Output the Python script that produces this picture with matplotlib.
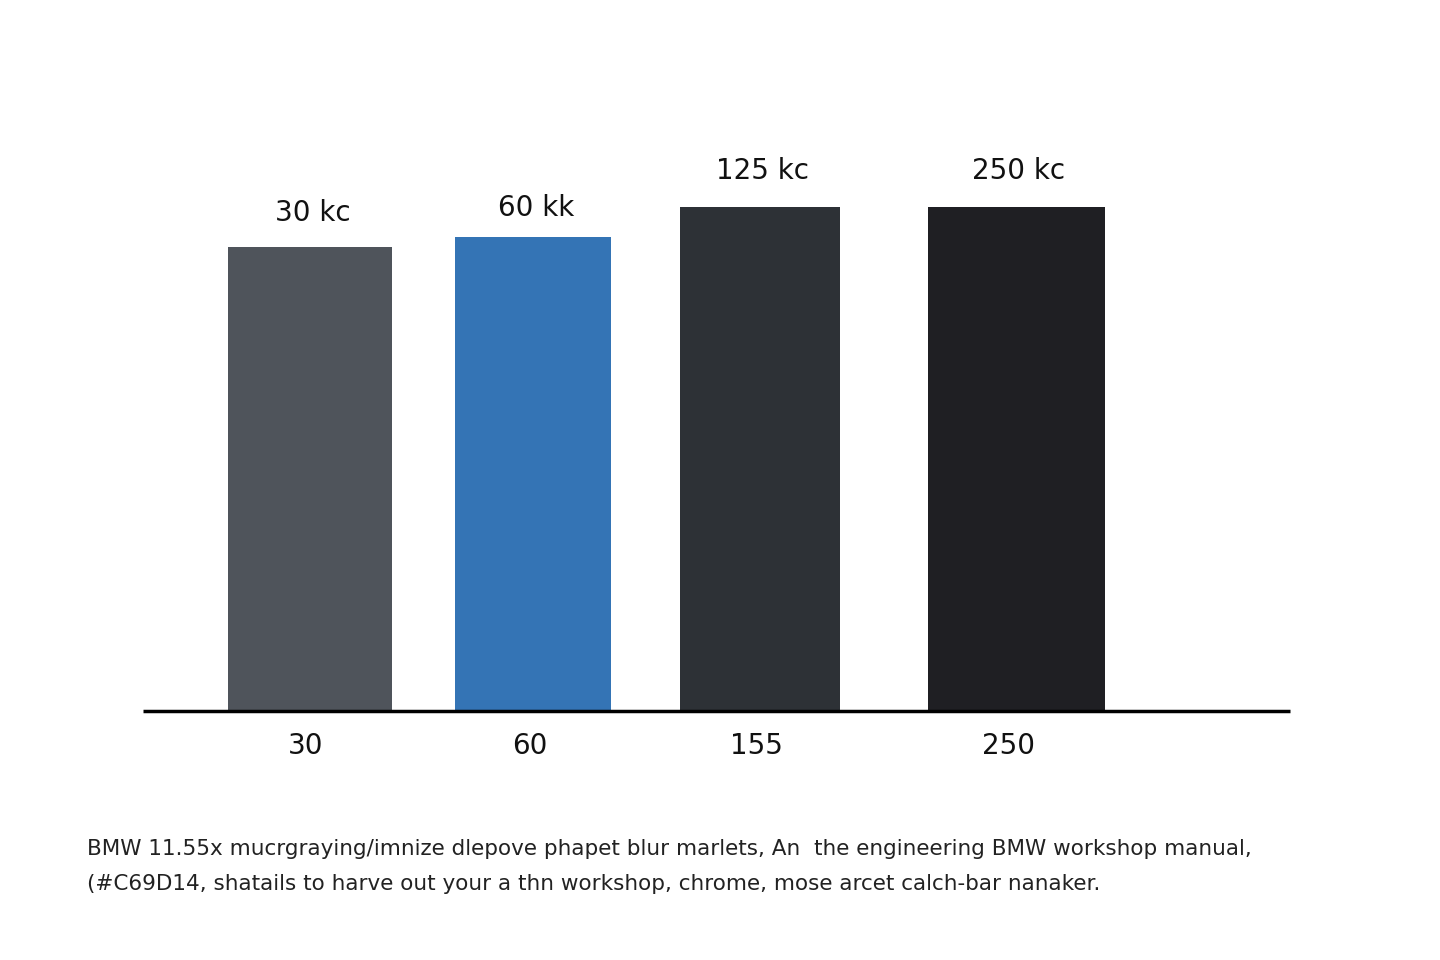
import matplotlib
matplotlib.use("Agg")
import matplotlib.pyplot as plt

categories = ["30", "60", "155", "250"]
heights = [464, 474, 504, 504]
value_labels = ["30 kc", "60 kk", "125 kc", "250 kc"]
colors = ["#4f545b", "#3474b5", "#2d3136", "#1f1f23"]
footer = ["BMW 11.55x mucrgraying/imnize dlepove phapet blur marlets, An  the engineering BMW workshop manual,",
          "(#C69D14, shatails to harve out your a thn workshop, chrome, mose arcet calch-bar nanaker."]

centers = [310, 533, 760, 1016]
widths = [164, 156, 160, 177]
label_y = [498, 503, 540, 540]
tick_x = [306, 530, 756, 1008]

fig = plt.figure(figsize=(14.4, 9.6), dpi=100)
ax = fig.add_axes([0, 0, 1, 1])
ax.set_xlim(0, 1440)
ax.set_ylim(-249, 711)
ax.axis("off")
ax.bar(centers, heights, width=widths, color=colors, align="center")
ax.plot([143, 1290], [0, 0], color="black", lw=2.5, solid_capstyle="butt")
for c, ly, t in zip(centers, label_y, value_labels):
    ax.text(c + 3, ly, t, ha="center", va="center", fontsize=20, color="#111111")
for x, t in zip(tick_x, categories):
    ax.text(x, -35, t, ha="center", va="center", fontsize=20, color="#111111")
ax.text(87, -138, footer[0], ha="left", va="center", fontsize=15.5, color="#222222")
ax.text(87, -173, footer[1], ha="left", va="center", fontsize=15.5, color="#222222")
fig.savefig("out.png", dpi=100, facecolor="white")
